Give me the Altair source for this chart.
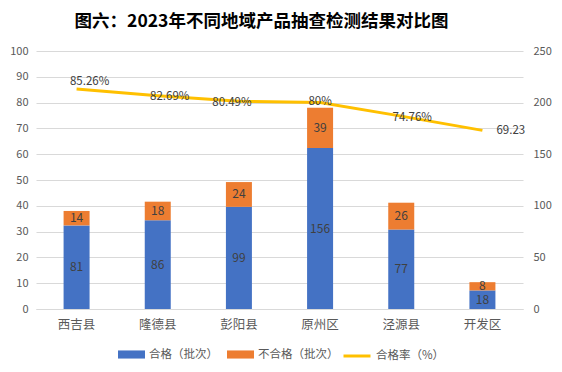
import altair as alt
import pandas as pd

regions = ["西吉县", "隆德县", "彭阳县", "原州区", "泾源县", "开发区"]
qualified = [81, 86, 99, 156, 77, 18]
unqualified = [14, 18, 24, 39, 26, 8]
rates = [85.26, 82.69, 80.49, 80.0, 74.76, 69.23]
rate_labels = ["85.26%", "82.69%", "80.49%", "80%", "74.76%", "69.23"]
series = ["合格（批次）", "不合格（批次）", "合格率（%）"]
left_ticks = [0, 10, 20, 30, 40, 50, 60, 70, 80, 90, 100]
right_ticks = [0, 50, 100, 150, 200, 250]

FONT = "Noto Sans CJK SC"
TXT = "#404040"
AX = "#595959"

rows = []
for i, r in enumerate(regions):
    rows.append({"region": r, "series": series[0], "value": qualified[i], "ord": 0,
                 "mid": qualified[i] / 2})
    rows.append({"region": r, "series": series[1], "value": unqualified[i], "ord": 1,
                 "mid": qualified[i] + unqualified[i] / 2})
bars_df = pd.DataFrame(rows)

line_df = pd.DataFrame({"region": regions, "rate": rates, "label": rate_labels,
                        "series": series[2], "idx": list(range(len(regions)))})

xaxis = alt.Axis(labelAngle=0, ticks=False, domainColor="#D9D9D9",
                 labelFont=FONT, labelFontSize=12.5, labelColor=AX,
                 labelPadding=9, grid=False)
xscale = alt.Scale(paddingInner=0, paddingOuter=0)


def xenc():
    return alt.X("region:N", sort=regions, title=None, scale=xscale, axis=xaxis)


bar_color = alt.Color("series:N",
                      scale=alt.Scale(domain=series[:2], range=["#4472C4", "#ED7D31"]),
                      legend=alt.Legend(
                          orient="none", legendX=82, legendY=290, direction="horizontal",
                          title=None, labelFont=FONT, labelFontSize=11.5, labelColor=AX,
                          symbolType="M-1,-0.3L1,-0.3L1,0.3L-1,0.3Z", symbolSize=729,
                          symbolStrokeWidth=0, columnPadding=9, labelOffset=4))

line_color = alt.Color("series:N",
                       scale=alt.Scale(domain=series[2:], range=["#FFC000"]),
                       legend=alt.Legend(
                           orient="none", legendX=306, legendY=290, direction="horizontal",
                           title=None, labelFont=FONT, labelFontSize=11.5, labelColor=AX,
                           symbolType="stroke", symbolSize=729, symbolStrokeWidth=3,
                           labelOffset=4))

yright = alt.Scale(domain=[0, 250], nice=False)
raxis = alt.Axis(orient="right", values=right_ticks, tickCount=6,
                 grid=False, domain=False, ticks=False, labelFont=FONT,
                 labelFontSize=11, labelColor=AX, labelPadding=10)
bars = alt.Chart(bars_df).mark_bar(size=26).encode(
    x=xenc(),
    y=alt.Y("value:Q", stack="zero", scale=yright, title=None, axis=raxis),
    color=bar_color,
    order=alt.Order("ord:Q"),
)
bar_text = alt.Chart(bars_df).mark_text(font=FONT, fontSize=12, color=TXT, baseline="middle").encode(
    x=xenc(),
    y=alt.Y("mid:Q", scale=yright, title=None, axis=raxis),
    text=alt.Text("value:Q"),
)
bar_layer = alt.layer(bars, bar_text)

yleft = alt.Scale(domain=[0, 100], nice=False)
laxis = alt.Axis(orient="left", values=left_ticks, tickCount=11, grid=True,
                 gridColor="#D9D9D9", domain=False, ticks=False, labelFont=FONT,
                 labelFontSize=11, labelColor=AX, labelPadding=8, labelOverlap=False)
line = alt.Chart(line_df).mark_line(strokeWidth=3).encode(
    x=xenc(),
    y=alt.Y("rate:Q", scale=yleft, title=None, axis=laxis),
    color=line_color,
)

offsets = [(13, -7, "center"), (12, 1.5, "center"), (-7, 1.5, "center"),
           (0, -1, "center"), (11, 2, "center"), (14, 1, "left")]
label_layers = []
for i, (dx, dy, al) in enumerate(offsets):
    label_layers.append(
        alt.Chart(line_df).transform_filter(alt.datum.idx == i).mark_text(
            font=FONT, fontSize=11.5, color=TXT, dx=dx, dy=dy, align=al, baseline="middle"
        ).encode(x=xenc(), y=alt.Y("rate:Q", scale=yleft, title=None, axis=laxis),
                 text="label:N")
    )
line_layer = alt.layer(line, *label_layers)

chart = alt.layer(bar_layer, line_layer).resolve_scale(
    y="independent", color="independent"
).properties(
    width=487, height=258,
    title=alt.TitleParams("图六：2023年不同地域产品抽查检测结果对比图", font=FONT,
                          fontSize=17.5, fontWeight="bold", color="#000000",
                          anchor="middle", frame="group", offset=15, dx=-18),
    autosize=alt.AutoSizeParams(type="none"),
    padding={"left": 28, "top": 43, "right": 31, "bottom": 60},
).configure_view(stroke=None).configure_axis(labelFont=FONT)

chart.save("out.html", embed_options={"renderer": "svg", "actions": False})
